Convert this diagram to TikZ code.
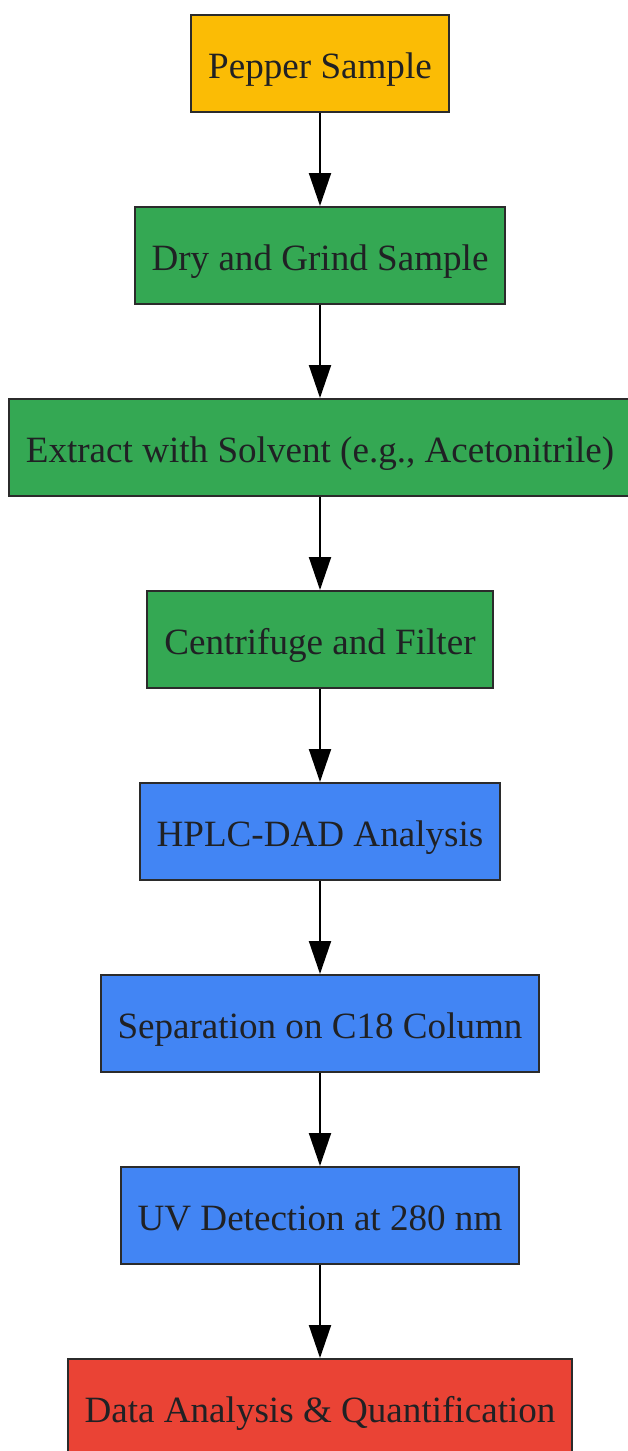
\documentclass[tikz,border=0pt]{standalone}
\usepackage{fontspec}
\setmainfont{Liberation Serif}
\usetikzlibrary{positioning,arrows.meta}

\definecolor{pepperyellow}{HTML}{FBBC05}
\definecolor{prepgreen}{HTML}{34A853}
\definecolor{hplcblue}{HTML}{4285F4}
\definecolor{resultred}{HTML}{EA4335}
\definecolor{boxline}{HTML}{2B2B2B}
\definecolor{boxtext}{HTML}{202124}

\begin{document}
\begin{tikzpicture}[x=1pt,y=1pt,
  stage/.style={draw=boxline, line width=2pt, text=boxtext,
    minimum height=97pt, inner xsep=17pt,
    text height=36pt, text depth=7pt,
    font=\fontsize{37.1}{45}\selectfont},
  flow/.style={-{Triangle[length=33pt,width=22pt]}, line width=2pt, black},
  node distance=93pt]

% Page frame
\useasboundingbox (0,0) rectangle (628,-1451);

% Stages
\node[stage, fill=pepperyellow, below=14pt] (sample) at (320,0) {Pepper Sample};
\node[stage, fill=prepgreen, below=of sample] (grind) {Dry and Grind Sample};
\node[stage, fill=prepgreen, below=of grind] (extract) {Extract with Solvent (e.g., Acetonitrile)};
\node[stage, fill=prepgreen, below=of extract] (filter) {Centrifuge and Filter};
\node[stage, fill=hplcblue, below=of filter] (hplc) {HPLC-DAD Analysis};
\node[stage, fill=hplcblue, below=of hplc] (column) {Separation on C18 Column};
\node[stage, fill=hplcblue, below=of column] (uv) {UV Detection at 280 nm};
\node[stage, fill=resultred, below=of uv] (quant) {Data Analysis \& Quantification};

% Arrows
\foreach \a/\b in {sample/grind, grind/extract, extract/filter, filter/hplc,
                   hplc/column, column/uv, uv/quant}
  \draw[flow] (\a) -- (\b);

\end{tikzpicture}
\end{document}
